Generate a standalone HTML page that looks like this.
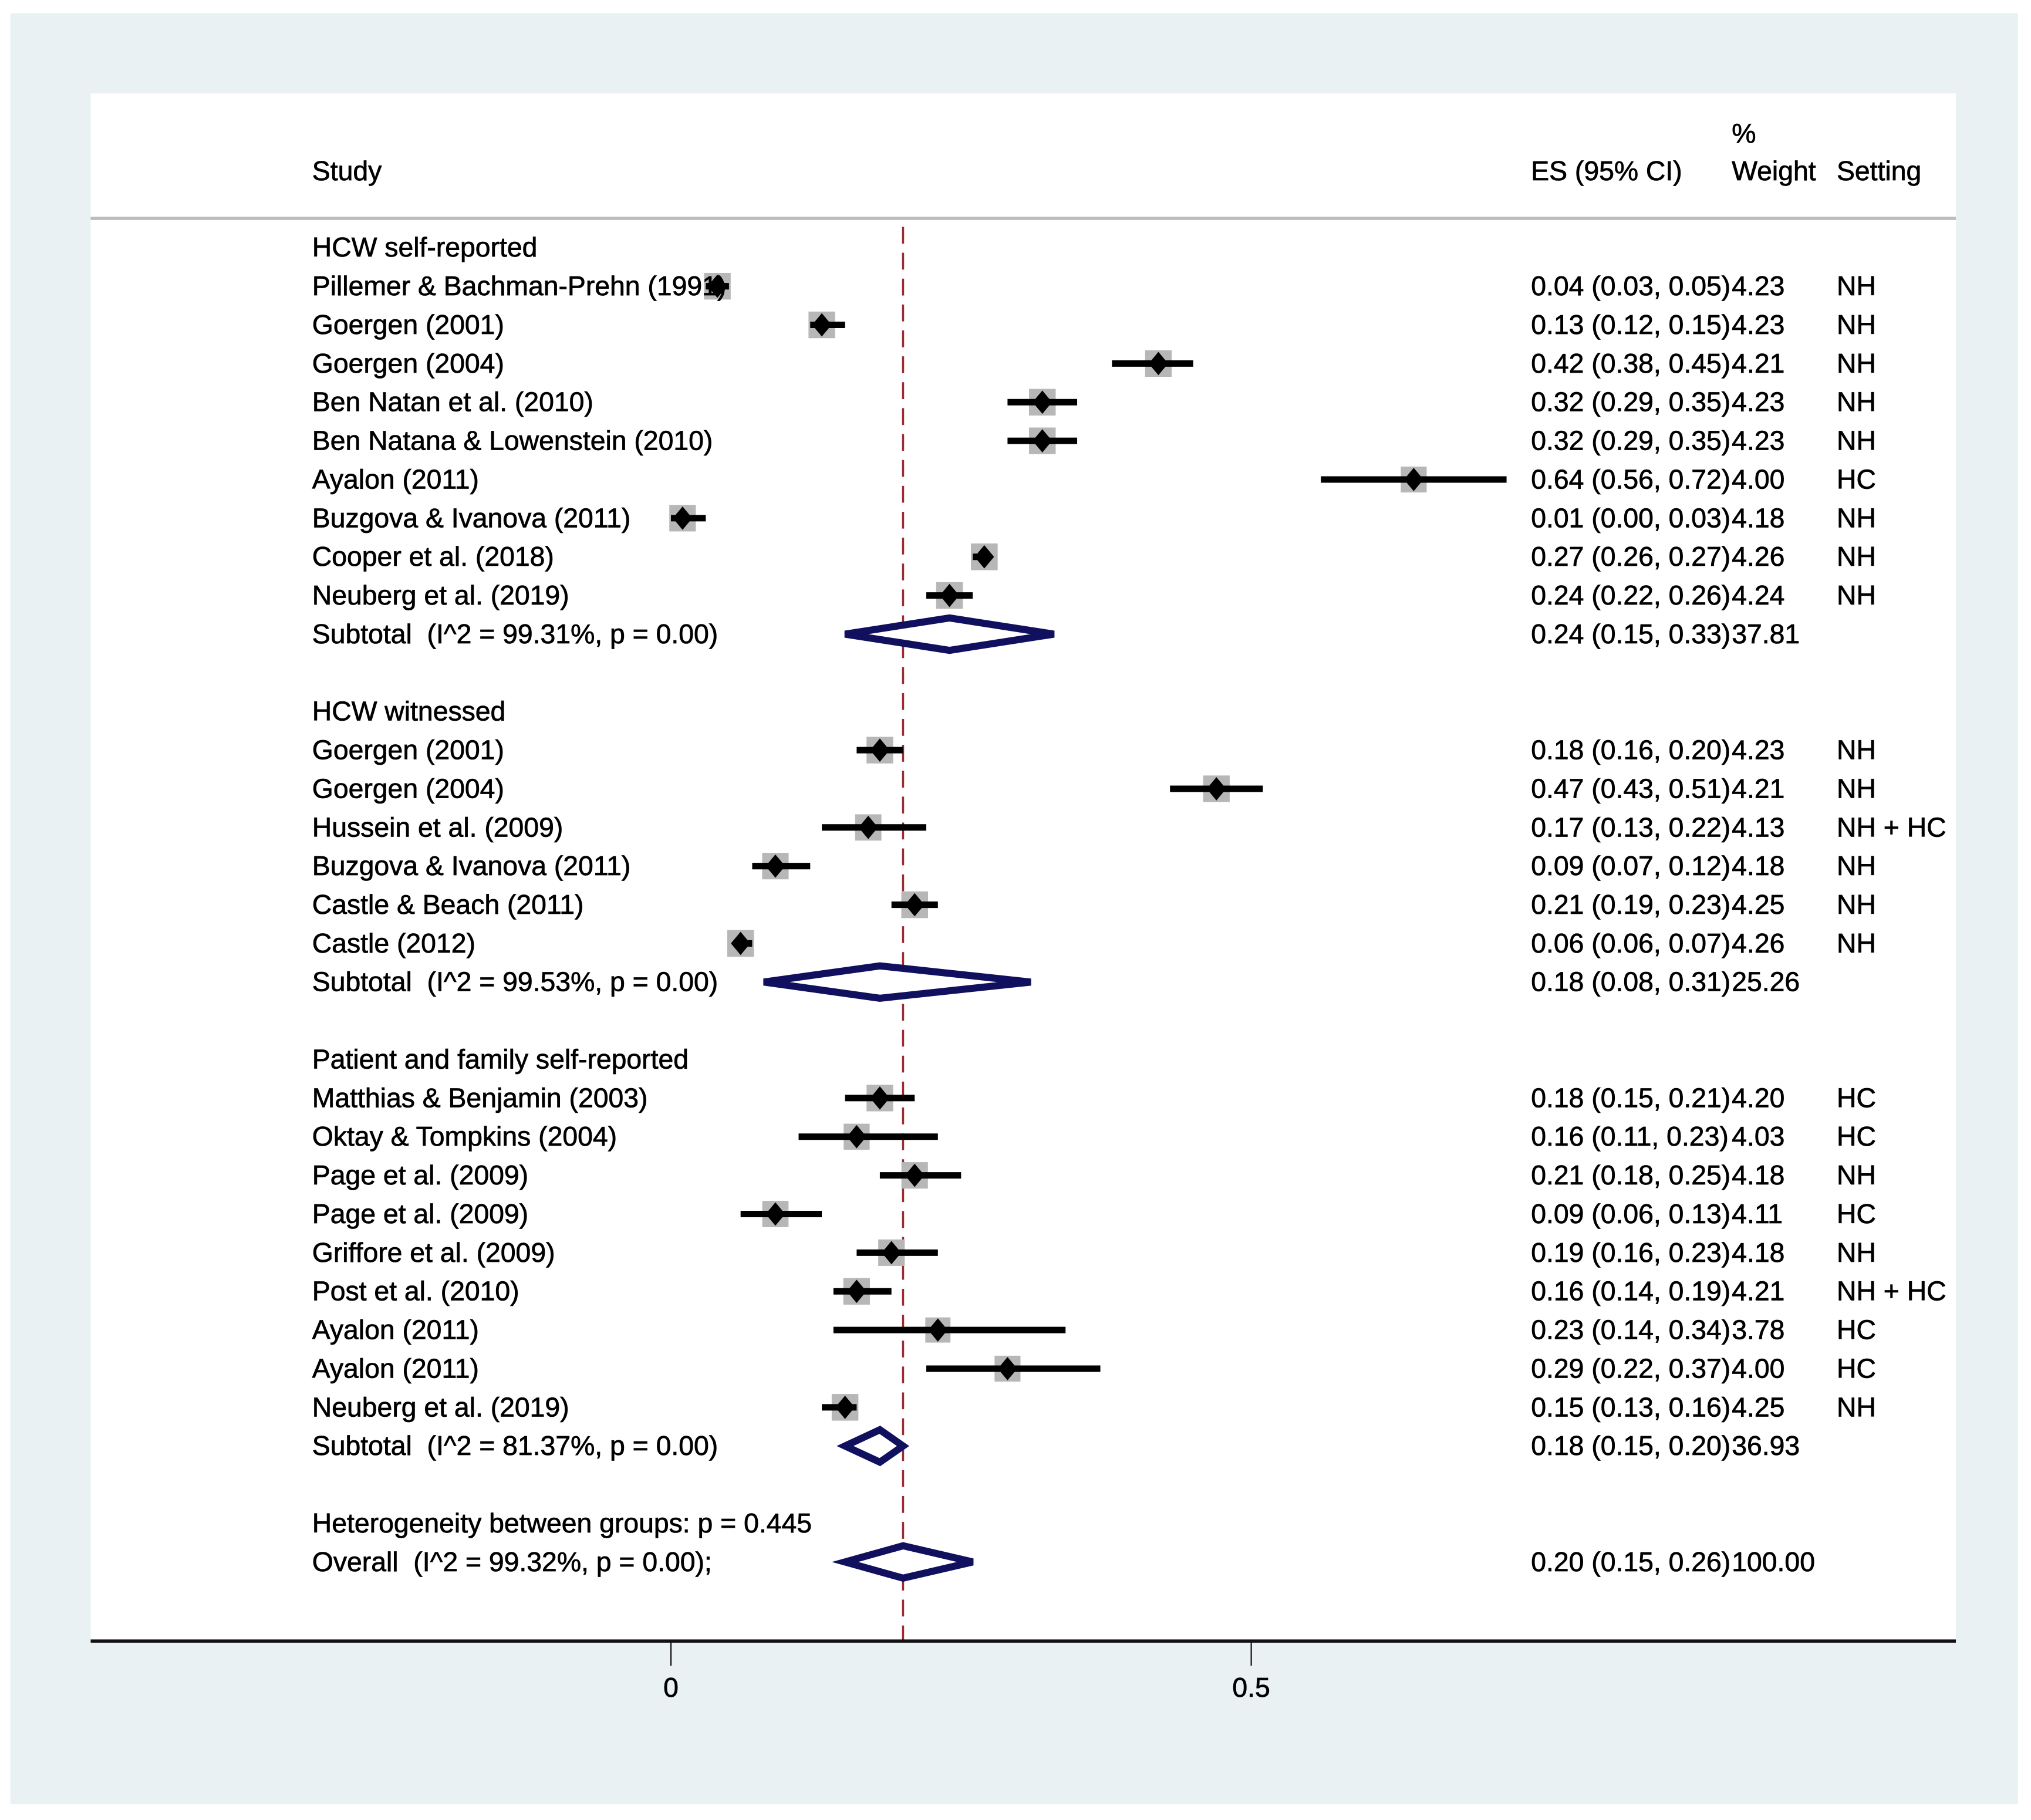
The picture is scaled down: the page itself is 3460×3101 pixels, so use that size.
<!DOCTYPE html>
<html><head><meta charset="utf-8">
<style>
html,body{margin:0;padding:0;background:#fff;}
svg{display:block;}
text{font-family:"Liberation Sans",Arial,sans-serif;font-size:21px;fill:#000;stroke:#000;stroke-width:0.35px;white-space:pre;}
</style></head>
<body>
<svg id="chart" width="3460" height="3101" viewBox="0 0 1568 1405" xmlns="http://www.w3.org/2000/svg">
<rect x="8" y="10" width="1550" height="1383" fill="#e9f1f3"/>
<rect x="70" y="72" width="1440" height="1195" fill="#fff"/>
<line x1="70" y1="168.5" x2="1510" y2="168.5" stroke="#bdbdbd" stroke-width="2.5"/>
<text x="241" y="139">Study</text>
<text x="1182" y="139">ES (95% CI)</text>
<text x="1337" y="110">%</text>
<text x="1337" y="139">Weight</text>
<text x="1418" y="139">Setting</text>
<g id="marks"></g>
<g id="labels"></g>
</svg>
<script>
const rowLabels = ["HCW self-reported","Pillemer & Bachman-Prehn (1991)","Goergen (2001)","Goergen (2004)","Ben Natan et al. (2010)","Ben Natana & Lowenstein (2010)","Ayalon (2011)","Buzgova & Ivanova (2011)","Cooper et al. (2018)","Neuberg et al. (2019)","Subtotal  (I^2 = 99.31%, p = 0.00)","",
"HCW witnessed","Goergen (2001)","Goergen (2004)","Hussein et al. (2009)","Buzgova & Ivanova (2011)","Castle & Beach (2011)","Castle (2012)","Subtotal  (I^2 = 99.53%, p = 0.00)","",
"Patient and family self-reported","Matthias & Benjamin (2003)","Oktay & Tompkins (2004)","Page et al. (2009)","Page et al. (2009)","Griffore et al. (2009)","Post et al. (2010)","Ayalon (2011)","Ayalon (2011)","Neuberg et al. (2019)","Subtotal  (I^2 = 81.37%, p = 0.00)","",
"Heterogeneity between groups: p = 0.445","Overall  (I^2 = 99.32%, p = 0.00);"];
const rowType = ["h","s","s","s","s","s","s","s","s","s","d","",
"h","s","s","s","s","s","s","d","",
"h","s","s","s","s","s","s","s","s","s","d","",
"h","d"];
const es = [null,0.04,0.13,0.42,0.32,0.32,0.64,0.01,0.27,0.24,0.24,null,
null,0.18,0.47,0.17,0.09,0.21,0.06,0.18,null,
null,0.18,0.16,0.21,0.09,0.19,0.16,0.23,0.29,0.15,0.18,null,
null,0.20];
const lo = [null,0.03,0.12,0.38,0.29,0.29,0.56,0.00,0.26,0.22,0.15,null,
null,0.16,0.43,0.13,0.07,0.19,0.06,0.08,null,
null,0.15,0.11,0.18,0.06,0.16,0.14,0.14,0.22,0.13,0.15,null,
null,0.15];
const hi = [null,0.05,0.15,0.45,0.35,0.35,0.72,0.03,0.27,0.26,0.33,null,
null,0.20,0.51,0.22,0.12,0.23,0.07,0.31,null,
null,0.21,0.23,0.25,0.13,0.23,0.19,0.34,0.37,0.16,0.20,null,
null,0.26];
const weights = ["","4.23","4.23","4.21","4.23","4.23","4.00","4.18","4.26","4.24","37.81","",
"","4.23","4.21","4.13","4.18","4.25","4.26","25.26","",
"","4.20","4.03","4.18","4.11","4.18","4.21","3.78","4.00","4.25","36.93","",
"","100.00"];
const settings = ["","NH","NH","NH","NH","NH","HC","NH","NH","NH","","",
"","NH","NH","NH + HC","NH","NH","NH","","",
"","HC","HC","NH","HC","NH","NH + HC","HC","HC","NH","","",
"",""];
const overallES = 0.20;
const xTicks = [0, 0.5];
const xTickLabels = ["0","0.5"];

const NS="http://www.w3.org/2000/svg";
const xs = v => 518 + (v - 0) * 896;
const ys = i => 191 + i * 29.85;
const marks = document.getElementById('marks');
const labels = document.getElementById('labels');
function mk(tag, attrs, parent){const e=document.createElementNS(NS,tag);for(const k in attrs)e.setAttribute(k,attrs[k]);parent.appendChild(e);return e;}
function fmt(v){return v.toFixed(2);}

const ref = mk('line',{x1:xs(overallES),y1:175,x2:xs(overallES),y2:1267,stroke:'#9b2b33','stroke-width':1.6,'stroke-dasharray':'13,7'},marks);



const ax = mk('line',{x1:70,y1:1267,x2:1510,y2:1267,stroke:'#111','stroke-width':2.5},marks);


xTicks.forEach((t,k)=>{
  const tl = mk('line',{x1:xs(t),y1:1267,x2:xs(t),y2:1286,stroke:'#111','stroke-width':1},marks);
  
  
  const tx = mk('text',{x:xs(t),y:1310,'text-anchor':'middle'},labels);
  tx.textContent = xTickLabels[k];
  
  
});

rowLabels.forEach((lab,i)=>{
  const y = ys(i);
  if(lab){
    const t = mk('text',{x:241,y:y+7},labels);
    t.textContent = lab;
    
    
  }
  if(es[i]!==null){
    const et = mk('text',{x:1182,y:y+7},labels);
    et.textContent = fmt(es[i])+' ('+fmt(lo[i])+', '+fmt(hi[i])+')';
    
    
  }
  if(weights[i]){
    const wt = mk('text',{x:1337,y:y+7},labels);
    wt.textContent = weights[i];
    
    
  }
  if(settings[i]){
    const st = mk('text',{x:1418,y:y+7},labels);
    st.textContent = settings[i];
    
    
  }
  if(rowType[i]==='s'){
    const w = parseFloat(weights[i]);
    const sz = 20.5*Math.sqrt(w/4.2);
    const sq = mk('rect',{x:xs(es[i])-sz/2,y:y-sz/2,width:sz,height:sz,fill:'#b7b7b7'},marks);
    
    
    const ci = mk('line',{x1:xs(lo[i]),y1:y,x2:xs(hi[i]),y2:y,stroke:'#000','stroke-width':5},marks);
    
    
    const cx = xs(es[i]);
    const pt = mk('polygon',{points:`${cx-7.5},${y} ${cx},${y-9} ${cx+7.5},${y} ${cx},${y+9}`,fill:'#000'},marks);
    
    
  } else if(rowType[i]==='d'){
    const a=xs(lo[i]), b=xs(hi[i]), c=xs(es[i]);
    const dm = mk('polygon',{points:`${a},${y} ${c},${y-12.5} ${b},${y} ${c},${y+12.5}`,fill:'#fff',stroke:'#10105e','stroke-width':5.5,'stroke-linejoin':'miter'},marks);
    
    
  }
});
</script>
</body></html>
